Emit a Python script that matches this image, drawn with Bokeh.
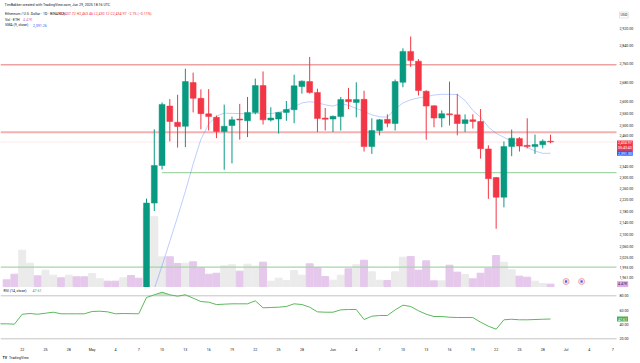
import pandas as pd
from bokeh.plotting import figure
from bokeh.layouts import column
from bokeh.models import (Range1d, FixedTicker, NumeralTickFormatter, Label,
                          LinearScale, LogAxis, LinearAxis)
from bokeh.embed import file_html
from bokeh.resources import INLINE

# ---------------- data ----------------
ORIGIN = "2025-04-22"
candle_start = "2025-05-08"
opens = [1812, 2208, 2345, 2579, 2513, 2497, 2678, 2611, 2547, 2533, 2476, 2500, 2526,
         2519, 2553, 2665, 2522, 2526, 2553, 2564, 2661, 2682, 2636, 2530, 2526, 2536,
         2606, 2594, 2607, 2417, 2480, 2525, 2508, 2679, 2815, 2771, 2641, 2580, 2530,
         2547, 2543, 2508, 2523, 2516, 2408, 2300, 2229, 2417, 2449, 2422, 2417, 2424,
         2437.72]
highs = [2224, 2485, 2594, 2608, 2626, 2738, 2721, 2649, 2650, 2540, 2585, 2536, 2588,
         2617, 2695, 2726, 2574, 2555, 2600, 2712, 2687, 2790, 2652, 2571, 2540, 2617,
         2655, 2679, 2643, 2529, 2526, 2545, 2691, 2829, 2883, 2780, 2645, 2582, 2561,
         2682, 2630, 2545, 2545, 2567, 2422, 2302, 2437, 2484, 2454, 2529, 2464, 2445,
         2463.46]
lows = [1795, 2180, 2330, 2437, 2413, 2415, 2553, 2485, 2480, 2450, 2329, 2353, 2444,
        2454, 2545, 2504, 2516, 2468, 2519, 2509, 2631, 2631, 2474, 2480, 2474, 2480,
        2567, 2533, 2398, 2389, 2461, 2493, 2480, 2658, 2746, 2623, 2444, 2493, 2493,
        2500, 2461, 2474, 2488, 2371, 2223, 2119, 2193, 2380, 2398, 2410, 2389, 2410,
        2430.12]
closes = [2208, 2345, 2586, 2516, 2496, 2682, 2611, 2548, 2536, 2476, 2497, 2523, 2522,
          2553, 2665, 2523, 2530, 2553, 2565, 2664, 2684, 2636, 2528, 2525, 2537, 2606,
          2597, 2606, 2417, 2480, 2523, 2509, 2682, 2815, 2774, 2644, 2579, 2530, 2548,
          2543, 2508, 2523, 2516, 2409, 2296, 2229, 2417, 2450, 2419, 2417, 2425, 2438,
          2434.97]

sma_start = "2025-05-08"
sma9 = [1850, 1925, 1997, 2077, 2160, 2250, 2350, 2445, 2506, 2538, 2550, 2549, 2548,
        2548, 2549, 2549, 2548, 2553, 2563, 2575, 2592, 2597, 2593, 2584, 2579, 2589,
        2582, 2569, 2557, 2543, 2535, 2534, 2567, 2592, 2605, 2613, 2618, 2625, 2628,
        2628, 2627, 2602, 2561, 2533, 2494, 2469, 2453, 2437, 2423, 2414, 2400, 2391,
        2391.26]

vol_start = "2025-04-20"
volume_k = [12.9, 23.6, 69.7, 44.7, 20.5, 31.3, 21.7, 16.7, 21.7, 18.6, 18.6, 25.0,
            14.8, 10.2, 10.2, 16.7, 21.1, 15.9, 150, 134, 57.0, 57.0, 44.2, 44.7, 47.4,
            35.9, 23.6, 25.5, 39.7, 41.7, 29.4, 42.8, 39.0, 46.7, 10.2, 15.9, 11.5, 30.7,
            21.7, 43.6, 36.5, 19.2, 12.1, 21.7, 34.0, 41.7, 50.5, 28.2, 12.1, 11.5, 28.2,
            56.3, 57.6, 31.3, 49.3, 10.9, 10.9, 40.9, 27.5, 23.0, 14.8, 25.5, 35.1, 59.5,
            46.7, 32.1, 19.8, 17.9, 10.2, 5.8, 4.47]
# direction of the days whose candles lie below the visible price range
early_vol_up = [0, 0, 1, 1, 0, 1, 1, 0, 1, 0, 0, 1, 1, 0, 0, 1, 0, 0]

rsi_start = "2025-04-19"
rsi14 = [40.9, 40.9, 40.4, 54.3, 55.3, 54.3, 55.7, 57.1, 54.9, 54.9, 54.9, 54.9, 58.1,
         58.5, 57.6, 54.9, 55.3, 55.1, 54.9, 77.6, 81.4, 85.0, 81.4, 79.5, 81.4, 76.7,
         72.0, 71.1, 67.8, 68.3, 68.8, 68.8, 68.8, 73.0, 63.2, 63.7, 64.1, 65.1, 68.8,
         67.8, 64.1, 57.6, 57.1, 57.1, 60.4, 60.9, 60.9, 46.9, 51.5, 52.5, 52.5, 60.4,
         66.9, 65.1, 59.1, 54.3, 51.1, 51.1, 50.1, 49.7, 49.7, 49.7, 43.2, 37.6, 33.4,
         46.5, 47.3, 46.5, 46.5, 46.9, 47.3, 47.61]

resistance_levels = [2755, 2473]
support_levels = [1993]
support_ray_price = 2318
support_ray_start = "2025-05-10"
last_price = 2434.97
event_dates = ["2025-07-01", "2025-07-03"]

price_ticks = [2920, 2840, 2760, 2680, 2600, 2550, 2500, 2460, 2340, 2300, 2260, 2220,
               2180, 2140, 2100, 2060, 2025, 1993, 1961]
rsi_ticks = [20, 40, 60, 80]
rsi_bands = [80, 20]
time_tick_dates = ["2025-04-22", "2025-04-25", "2025-04-28", "2025-05-01", "2025-05-04",
                   "2025-05-07", "2025-05-10", "2025-05-13", "2025-05-16", "2025-05-19",
                   "2025-05-22", "2025-05-25", "2025-05-28", "2025-06-01", "2025-06-04",
                   "2025-06-07", "2025-06-10", "2025-06-13", "2025-06-16", "2025-06-19",
                   "2025-06-22", "2025-06-25", "2025-06-28", "2025-07-01", "2025-07-04",
                   "2025-07-07"]
time_tick_labels = ["22", "25", "28", "May", "4", "7", "10", "13", "16", "19", "22", "25",
                    "28", "Jun", "4", "7", "10", "13", "16", "19", "22", "25", "28", "Jul",
                    "4", "7"]

# ---------------- helpers ----------------
org = pd.Timestamp(ORIGIN)


def days_from(start, n):
    s = (pd.Timestamp(start) - org).days
    return list(range(s, s + n))


def day_of(d):
    return (pd.Timestamp(d) - org).days


cx = days_from(candle_start, len(opens))
sx = days_from(sma_start, len(sma9))
vx = days_from(vol_start, len(volume_k))
rx = days_from(rsi_start, len(rsi14))
up = [c >= o for o, c in zip(opens, closes)]
vol_up = [bool(f) for f in early_vol_up] + up
GREEN, RED = "#089981", "#f23645"
VGRAY, VPURP = "#ebebeb", "#e5c8eb"
FONT = "Roboto"
FS = "3.6px"
TXT = "#131722"

W = 640
X_RANGE = Range1d(-2.793, 79.58)
PANE_END = 76.49          # right edge of the chart pane, where the price scale starts
H1, H2 = 287, 76


def style_axis(a):
    a.major_tick_line_color = None
    a.minor_tick_line_color = None
    a.axis_line_color = None
    a.major_tick_out = 0
    a.major_tick_in = 0
    a.major_label_text_font_size = FS
    a.major_label_text_font = FONT
    a.major_label_text_color = TXT


def lab(fig, x, y, text, color=TXT, **kw):
    fig.add_layout(Label(x=x, y=y, x_units="screen", y_units="screen", text=text,
                         text_color=color, text_font_size=FS, text_font=FONT,
                         text_baseline="middle", **kw))


def tag(fig, y, text, bg, fg="white", **kw):
    kw.setdefault("text_baseline", "middle")
    fig.add_layout(Label(x=616.5, y=y, x_units="screen", text=text,
                         text_color=fg, text_font_size=FS, text_font=FONT,
                         background_fill_color=bg, padding=1, **kw))


# ---------------- main pane ----------------
p1 = figure(frame_width=W, frame_height=H1, x_range=X_RANGE,
            y_range=Range1d(1928.9, 3053.9), y_axis_type="log", y_axis_location=None,
            x_axis_location=None, output_backend="svg", toolbar_location=None,
            min_border=0, outline_line_color=None,
            background_fill_color="white", border_fill_color="white")
p1.grid.visible = False
p1.extra_y_ranges = {"vol": Range1d(-1.92, 549.1)}
p1.extra_y_scales = {"vol": LinearScale()}

pax = LogAxis(fixed_location=PANE_END, ticker=FixedTicker(ticks=price_ticks),
              formatter=NumeralTickFormatter(format="0,0.00"))
style_axis(pax)
pax.major_label_standoff = 3
p1.add_layout(pax, "right")

p1.vbar(x=vx, top=volume_k, bottom=0, width=0.9, y_range_name="vol",
        color=[VGRAY if u else VPURP for u in vol_up])

x_left = X_RANGE.start
p1.segment(x0=[x_left], x1=[PANE_END], y0=[resistance_levels[0]],
           y1=[resistance_levels[0]], line_color="#e57373", line_width=1)
p1.segment(x0=[x_left], x1=[PANE_END], y0=[resistance_levels[1]],
           y1=[resistance_levels[1]], line_color="#f7b0b0", line_width=2)
p1.segment(x0=[x_left], x1=[PANE_END], y0=support_levels, y1=support_levels,
           line_color="#a5d6a7", line_width=1.2)
p1.segment(x0=[x_left], x1=[PANE_END], y0=[last_price], y1=[last_price],
           line_color="#f23645", line_alpha=0.22, line_width=1, line_dash="1 1")
p1.segment(x0=[day_of(support_ray_start)], x1=[PANE_END],
           y0=[support_ray_price], y1=[support_ray_price],
           line_color="#a5d6a7", line_width=1.2)

p1.line(sx, sma9, line_color="#2962ff", line_alpha=0.35, line_width=0.9)

ccol = [GREEN if u else RED for u in up]
p1.segment(x0=cx, x1=cx, y0=lows, y1=highs, line_color=ccol, line_width=1)
p1.vbar(x=cx, top=[max(o, c) for o, c in zip(opens, closes)],
        bottom=[min(o, c) for o, c in zip(opens, closes)],
        width=0.76, fill_color=ccol, line_color=ccol, line_width=0.5)

ev_x = [day_of(d) for d in event_dates]
p1.scatter(ev_x, [9.6] * len(ev_x), y_range_name="vol", marker="circle", size=6,
           fill_color="#fde3e6", line_color="#f4a4ad", line_width=1)
p1.scatter(ev_x, [9.6] * len(ev_x), y_range_name="vol", marker="square", size=2.2,
           fill_color="#2962ff", line_color=None)

lab(p1, 4.0, 282.7, "TimBakker created with TradingView.com, Jun 29, 2025 18:16 UTC")
lab(p1, 4.5, 273.2, "Ethereum / U.S. Dollar · 1D · BINANCE")
lab(p1, 59.0, 273.2, "O2,437.72 H2,463.46 L2,430.12 C2,434.97 −2.75 (−0.11%)", RED)
lab(p1, 4.5, 267.7, "Vol · ETH")
lab(p1, 22.5, 267.7, "4.47K", "#c77dd1")
lab(p1, 4.5, 262.5, "SMA (9, close)")
lab(p1, 32.5, 262.5, "2,391.26", "#2962ff")
lab(p1, 619.0, 272.5, "USD", border_line_color="#d1d4dc", border_line_width=0.6,
    padding=1)

tag(p1, last_price, "2,434.97\n05:43:43", RED, text_baseline="top", y_offset=1.5)
tag(p1, sma9[-1], "2,391.30", "#2962ff")
tag(p1, volume_k[-1], "4.47K", "#dcaee4", fg="#4a2050", y_range_name="vol")

# ---------------- RSI pane + time scale ----------------
p2 = figure(frame_width=W, frame_height=H2, x_range=X_RANGE,
            y_range=Range1d(-14.46, 91.58), y_axis_location=None,
            x_axis_location=None, output_backend="svg", toolbar_location=None,
            min_border=0, outline_line_color=None,
            background_fill_color="white", border_fill_color="white")
p2.grid.visible = False

rax = LinearAxis(fixed_location=PANE_END, ticker=FixedTicker(ticks=rsi_ticks),
                 formatter=NumeralTickFormatter(format="0.00"))
style_axis(rax)
rax.major_label_standoff = 3
p2.add_layout(rax, "right")

tt = [day_of(d) for d in time_tick_dates]
tax = LinearAxis(fixed_location=14.84, ticker=FixedTicker(ticks=tt),
                 major_label_overrides={t: l for t, l in zip(tt, time_tick_labels)})
style_axis(tax)
tax.major_label_standoff = 5
p2.add_layout(tax, "below")

for lvl in rsi_bands:
    p2.segment(x0=[x_left], x1=[PANE_END], y0=[lvl], y1=[lvl],
               line_color="#c4c4c4", line_width=1)
p2.varea(x=rx, y1=[80] * len(rsi14), y2=[max(v, 80) for v in rsi14],
         fill_color="#a5d6a7", fill_alpha=0.6)
p2.line(rx, rsi14, line_color="#5cb85c", line_width=1)

lab(p2, 3.0, 72.7, "RSI (14, close)")
lab(p2, 32.0, 72.7, "47.61", "#43a047")
tag(p2, rsi14[-1], "47.61", "#4caf50")
lab(p2, 2.0, 6.0, "TV", text_font_style="bold")
lab(p2, 8.5, 6.0, "TradingView")

layout = column(p1, p2)
open("out.html", "w").write(file_html(layout, INLINE))
